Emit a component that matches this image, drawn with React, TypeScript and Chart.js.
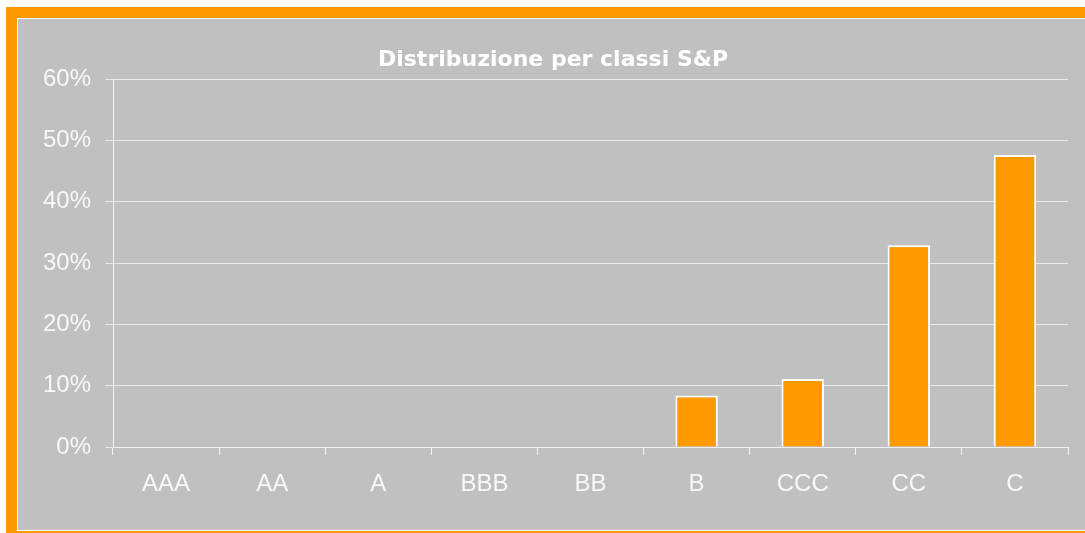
import React, { useEffect, useRef } from "react";
import { Chart, registerables } from "chart.js";

Chart.register(...registerables);

const categories = ["AAA", "AA", "A", "BBB", "BB", "B", "CCC", "CC", "C"];
const shares = [0, 0, 0, 0, 0, 0.084, 0.111, 0.329, 0.476];
const chartTitle = "Distribuzione per classi S&P";

const titlePlugin = {
  id: "customTitle",
  afterDraw(chart: any) {
    const ctx = chart.ctx;
    ctx.save();
    ctx.font = "bold 22px 'DejaVu Sans'";
    ctx.fillStyle = "#ffffff";
    ctx.textAlign = "center";
    ctx.textBaseline = "middle";
    ctx.fillText(chartTitle, 535, 41);
    ctx.restore();
  },
};

export default function App() {
  const ref = useRef<HTMLCanvasElement | null>(null);

  useEffect(() => {
    if (!ref.current) return;
    const chart = new Chart(ref.current, {
      type: "bar",
      data: {
        labels: categories,
        datasets: [
          {
            data: shares,
            backgroundColor: "#ff9900",
            borderColor: "#ffffff",
            borderWidth: 2,
            barPercentage: 0.4,
            categoryPercentage: 1,
          },
        ],
      },
      plugins: [titlePlugin],
      options: {
        animation: false,
        responsive: false,
        maintainAspectRatio: false,
        layout: { padding: { top: 60, right: 17, bottom: 0, left: 0 } },
        plugins: {
          legend: { display: false },
          title: { display: false },
          tooltip: { enabled: false },
        },
        scales: {
          x: {
            grid: {
              offset: true,
              drawOnChartArea: false,
              drawTicks: true,
              tickLength: 8,
              color: "#f2f2f2",
            },
            border: { color: "#f2f2f2", width: 1 },
            ticks: {
              color: "#f8f8f8",
              font: { family: "'Liberation Sans', Arial, sans-serif", size: 24 },
              padding: 15,
              maxRotation: 0,
            },
            afterFit(scale: any) {
              scale.height = 83;
            },
          },
          y: {
            min: 0,
            max: 0.6,
            grid: {
              color: "#ebebeb",
              tickLength: 8,
              drawTicks: true,
            },
            border: { color: "#f5f5f5", width: 1 },
            ticks: {
              stepSize: 0.1,
              color: "#f8f8f8",
              font: { family: "'Liberation Sans', Arial, sans-serif", size: 24 },
              padding: 14,
              callback: (v: any) => Math.round(Number(v) * 100) + "%",
            },
            afterFit(scale: any) {
              scale.width = 95;
            },
          },
        },
      },
    });
    return () => chart.destroy();
  }, []);

  return (
    <div
      style={{
        position: "fixed",
        left: 0,
        top: 0,
        width: 1085,
        height: 533,
        background: "#ffffff",
        overflow: "hidden",
      }}
    >
      <div
        style={{
          position: "absolute",
          left: 6,
          top: 7,
          width: 1100,
          height: 526,
          background: "#ff9900",
        }}
      />
      <div
        style={{
          position: "absolute",
          left: 17,
          top: 18,
          width: 1100,
          height: 513,
          background: "#ffffff",
        }}
      />
      <div
        style={{
          position: "absolute",
          left: 18,
          top: 19,
          width: 1100,
          height: 511,
          background: "#c0c0c0",
        }}
      />
      <canvas
        ref={ref}
        width={1067}
        height={511}
        style={{ position: "absolute", left: 18, top: 19, width: 1067, height: 511 }}
      />
    </div>
  );
}
